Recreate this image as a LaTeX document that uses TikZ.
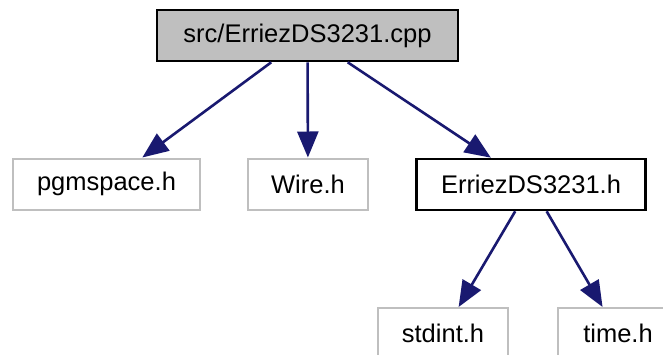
\documentclass[tikz,border=0pt]{standalone}
\usepackage{fontspec}
\setmainfont{Liberation Sans}
\usetikzlibrary{arrows.meta}
\definecolor{edgeblue}{HTML}{191970}
\definecolor{boxgray}{HTML}{BFBFBF}
\tikzset{
  filebox/.style={draw=boxgray, line width=2pt, rectangle, inner sep=0pt,
    font=\fontsize{25.5}{30}\selectfont, anchor=center},
  mainbox/.style={filebox, draw=black, line width=2.6pt},
  rootbox/.style={mainbox, fill=boxgray},
  incl/.style={draw=edgeblue, line width=2.6pt,
    -{Triangle[length=26pt, width=21pt]}}
}
\begin{document}
\begin{tikzpicture}[x=1pt, y=-1pt]
  \useasboundingbox (0,0) rectangle (663,354);
  \path[clip] (0,0) rectangle (663,354);

  % source file at the top
  \node[rootbox, minimum width=301pt, minimum height=51pt] (cpp) at (307.5,35.5) {src/ErriezDS3231.cpp};

  % headers included directly
  \node[filebox, minimum width=187pt, minimum height=51pt] (pgm) at (106.5,184) {pgmspace.h};
  \node[filebox, minimum width=120pt, minimum height=51pt] (wire) at (308,184) {Wire.h};
  \node[mainbox, minimum width=229pt, minimum height=51pt] (hdr) at (531,184.5) {ErriezDS3231.h};

  % headers included by ErriezDS3231.h
  \node[filebox, minimum width=130pt, minimum height=51pt] (stdint) at (443,333.5) {stdint.h};
  \node[filebox, minimum width=120pt, minimum height=51pt] (time) at (618,333.5) {time.h};

  \draw[incl] (cpp) -- (pgm);
  \draw[incl] (cpp) -- (wire);
  \draw[incl] (cpp) -- (hdr);
  \draw[incl] (hdr) -- (stdint);
  \draw[incl] (hdr) -- (time);
\end{tikzpicture}
\end{document}
